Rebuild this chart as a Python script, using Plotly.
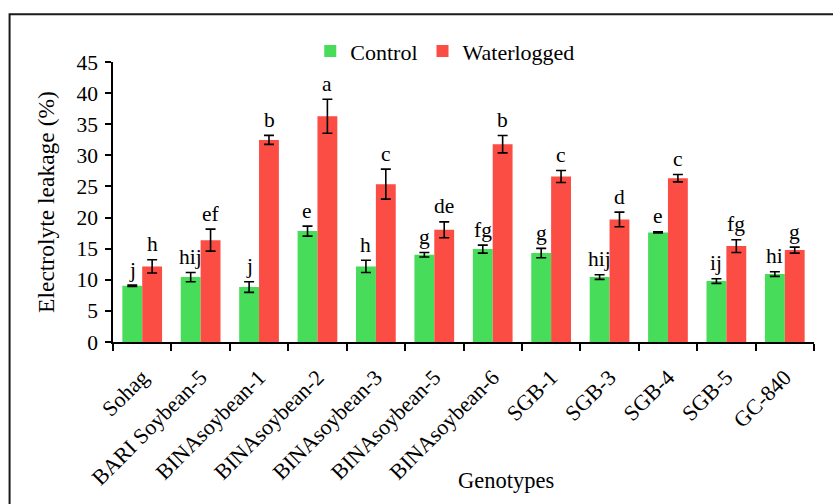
import plotly.graph_objects as go

genotypes = ["Sohag", "BARI Soybean-5", "BINAsoybean-1", "BINAsoybean-2", "BINAsoybean-3",
             "BINAsoybean-5", "BINAsoybean-6", "SGB-1", "SGB-3", "SGB-4", "SGB-5", "GC-840"]
control = [9.04, 10.43, 8.83, 17.82, 12.15, 14.02, 14.93, 14.29, 10.43, 17.61, 9.79, 10.92]
control_err = [0.1, 0.75, 0.86, 0.8, 0.99, 0.37, 0.64, 0.75, 0.37, 0.1, 0.37, 0.37]
waterlogged = [12.15, 16.37, 32.48, 36.28, 25.37, 18.03, 31.79, 26.6, 19.7, 26.33, 15.41, 14.77]
waterlogged_err = [1.07, 1.77, 0.72, 2.73, 2.41, 1.28, 1.39, 0.96, 1.18, 0.59, 1.02, 0.48]
control_letters = ["j", "hij", "j", "e", "h", "g", "fg", "g", "hij", "e", "ij", "hi"]
waterlogged_letters = ["h", "ef", "b", "a", "c", "de", "b", "c", "d", "c", "fg", "g"]
y_ticks = [0, 5, 10, 15, 20, 25, 30, 35, 40, 45]

FONT = "Times New Roman"
GREEN = "#47dc59"
RED = "#fb4d44"

fig = go.Figure()
fig.add_trace(go.Bar(
    name="Control", x=genotypes, y=control,
    marker=dict(color=GREEN, line=dict(width=0)),
    error_y=dict(type="data", array=control_err, color="black", thickness=1.6, width=5),
))
fig.add_trace(go.Bar(
    name="Waterlogged", x=genotypes, y=waterlogged,
    marker=dict(color=RED, line=dict(width=0)),
    error_y=dict(type="data", array=waterlogged_err, color="black", thickness=1.6, width=5),
))

annotations = []
for g, v, e, t in zip(genotypes, control, control_err, control_letters):
    annotations.append(dict(x=g, y=v + e, xref="x", yref="y", text=t, showarrow=False,
                            xanchor="center", yanchor="bottom", xshift=-10, yshift=1.5,
                            font=dict(family=FONT, size=21.5, color="black")))
for g, v, e, t in zip(genotypes, waterlogged, waterlogged_err, waterlogged_letters):
    annotations.append(dict(x=g, y=v + e, xref="x", yref="y", text=t, showarrow=False,
                            xanchor="center", yanchor="bottom", xshift=10, yshift=1.5,
                            font=dict(family=FONT, size=21.5, color="black")))

L, R, T, B = 112.5, 19, 61.7, 162
W, H = 833, 504
pw = W - L - R
ph = H - T - B

def px_x(p):
    return (p - L) / pw

def px_y(p):
    return (H - B - p) / ph

annotations.append(dict(x=px_x(506), y=px_y(481), xref="paper", yref="paper", text="Genotypes",
                        showarrow=False, xanchor="center", yanchor="middle",
                        font=dict(family=FONT, size=22.5, color="black")))

fig.update_layout(
    width=W, height=H,
    margin=dict(l=L, r=R, t=T, b=B, pad=0),
    paper_bgcolor="white", plot_bgcolor="white",
    font=dict(family=FONT, size=21, color="black"),
    barmode="group", bargap=0.32, bargroupgap=0,
    showlegend=True,
    legend=dict(orientation="h", x=px_x(445), y=px_y(51), xanchor="center", yanchor="middle",
                font=dict(family=FONT, size=22, color="black"), itemwidth=30,
                bgcolor="rgba(0,0,0,0)"),
    annotations=annotations,
    shapes=[dict(type="rect", xref="paper", yref="paper",
                 x0=px_x(9), x1=px_x(900), y0=px_y(540), y1=px_y(14),
                 line=dict(color="#1a1a1a", width=2), fillcolor="rgba(0,0,0,0)", layer="above")],
)
fig.update_xaxes(
    type="category", showline=True, linecolor="black", linewidth=1.5,
    ticks="outside", tickson="boundaries", ticklen=7, tickwidth=1.5, tickcolor="black",
    tickangle=-45, tickfont=dict(family=FONT, size=22, color="black"),
    ticklabelstandoff=12,
    showgrid=False, zeroline=False,
)
fig.update_yaxes(
    range=[0, 45], tickvals=y_ticks, ticktext=[str(v) for v in y_ticks],
    showline=True, linecolor="black", linewidth=1.5,
    ticks="outside", ticklen=6, tickwidth=1.5, tickcolor="black",
    tickfont=dict(family=FONT, size=21.5, color="black"),
    ticklabelstandoff=3,
    title=dict(text="Electrolyte leakage (%)", font=dict(family=FONT, size=23.5, color="black"), standoff=15),
    showgrid=False, zeroline=False,
)

fig.write_html("out.html")
